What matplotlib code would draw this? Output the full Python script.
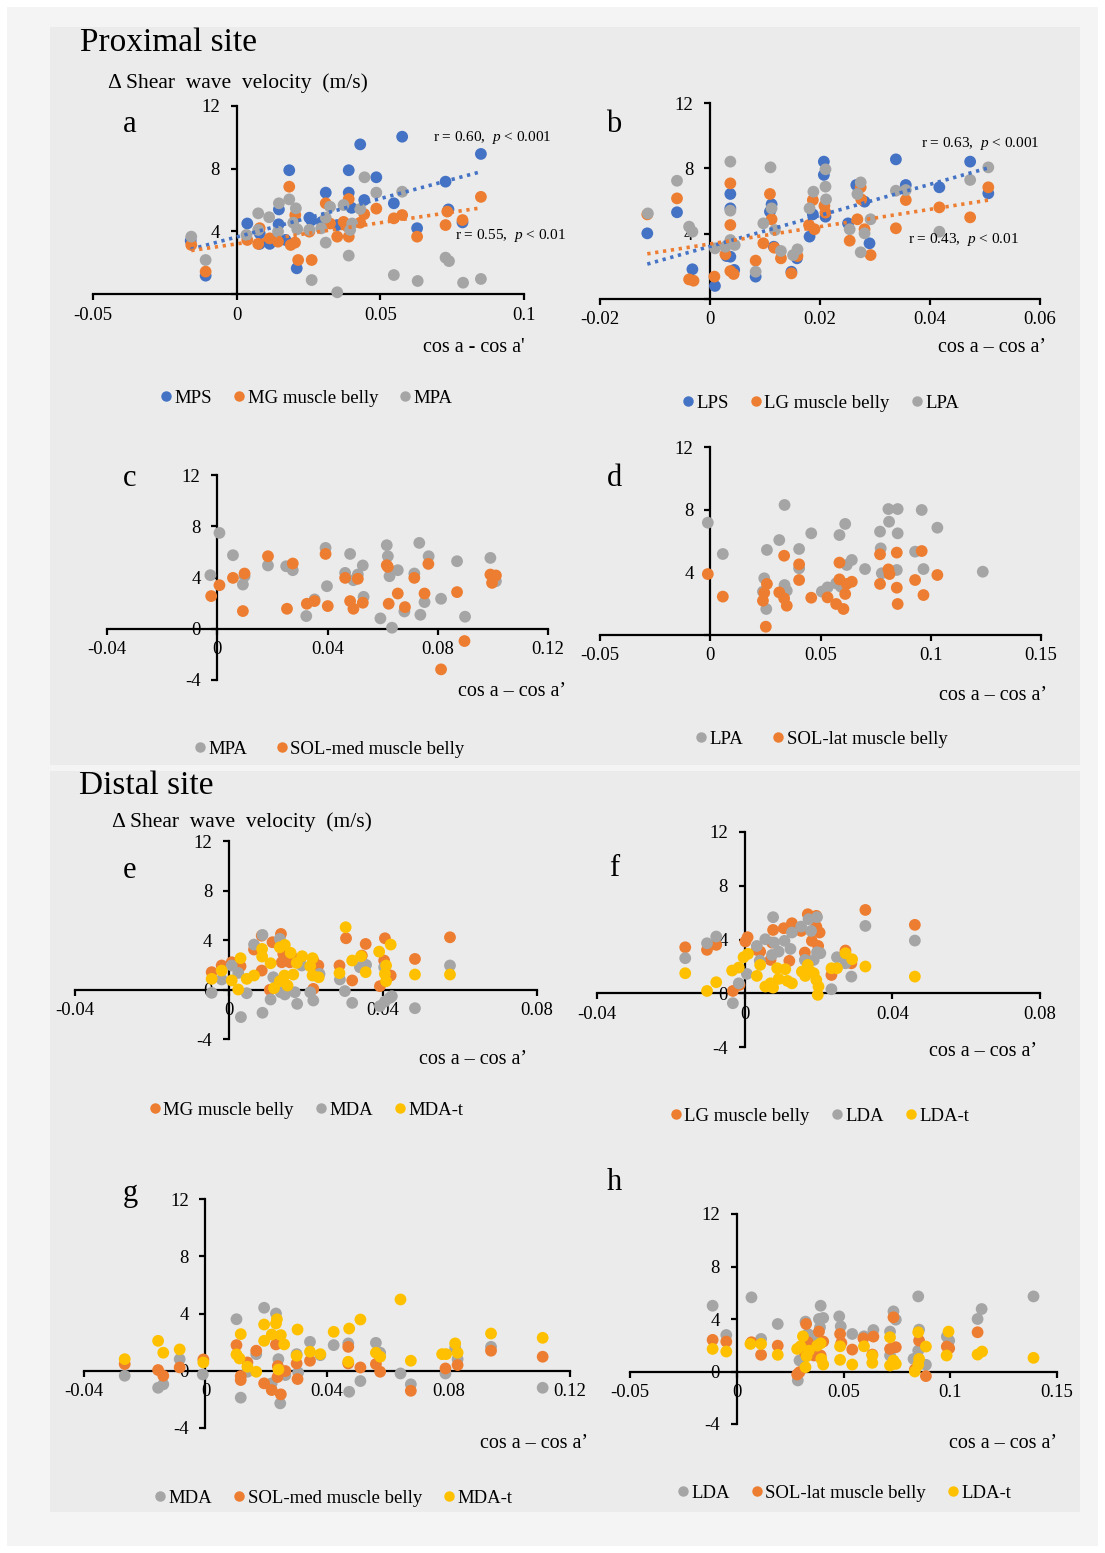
import numpy as np
import matplotlib
matplotlib.use('Agg')
import matplotlib.pyplot as plt
from matplotlib.lines import Line2D
from matplotlib.patches import Rectangle

plt.rcParams['font.family'] = ['Liberation Serif', 'DejaVu Serif']
plt.rcParams['mathtext.fontset'] = 'custom'
plt.rcParams['mathtext.rm'] = 'Liberation Serif'
plt.rcParams['mathtext.it'] = 'Liberation Serif:italic'

BLUE, ORANGE, GRAY, YELLOW = '#4472C4', '#ED7D31', '#A5A5A5', '#FFC000'

# ---------------- proximal site ----------------
# a: medial
a_mps_x = [0.0576, 0.043, 0.085, 0.0183, 0.039, 0.0486, 0.0727, 0.031, 0.039, 0.0444, 0.0547, 0.0147, 0.040, 0.0737,
           0.0037, 0.0146, 0.0253, 0.026, 0.0296, 0.035, 0.0786, 0.0628, 0.008, 0.0115, 0.017, 0.0209, -0.0108, -0.016, 0.008]
a_mps_y = [10.04, 9.55, 8.94, 7.9, 7.9, 7.45, 7.17, 6.47, 6.47, 6.0, 5.79, 5.4, 5.5, 5.4,
           4.5, 4.45, 4.87, 4.7, 4.6, 4.4, 4.57, 4.2, 3.2, 3.2, 3.45, 1.64, 1.17, 3.4, 3.87]
a_mg_x = [0.0183, 0.039, 0.031, 0.0486, 0.085, 0.0444, 0.0547, 0.0576, 0.0733, 0.0786, 0.0727, 0.043, 0.0372, 0.0325,
          0.0386, 0.035, 0.039, 0.0628, -0.0158, 0.0037, 0.0075, 0.0115, 0.0144, 0.0188, 0.0203, 0.0214, 0.0261, -0.0108,
          0.008, 0.0253, 0.0204]
a_mg_y = [6.85, 6.06, 5.79, 5.45, 6.2, 5.1, 4.83, 5.04, 5.26, 4.72, 4.4, 4.55, 4.6, 4.5,
          4.3, 3.66, 3.66, 3.66, 3.13, 3.45, 3.2, 3.55, 3.34, 3.13, 3.28, 2.17, 2.17, 1.43,
          4.2, 3.98, 5.04]
a_mpa_x = [0.0445, 0.0486, 0.0576, 0.0183, 0.0147, 0.0075, 0.0113, 0.0206, 0.0325, 0.0372, 0.043, 0.031, 0.0197, 0.0211,
           0.0144, 0.0294, 0.0395, 0.0402, -0.0158, 0.0034, 0.0075, 0.031, -0.0108, 0.039, 0.0727, 0.0739, 0.0547, 0.0261,
           0.063, 0.0788, 0.085, 0.035, 0.0253]
a_mpa_y = [7.45, 6.47, 6.53, 6.04, 5.79, 5.15, 4.9, 5.47, 5.57, 5.68, 5.43, 4.87, 4.55, 4.13,
           3.98, 4.19, 4.09, 4.5, 3.66, 3.77, 4.09, 3.28, 2.17, 2.45, 2.32, 2.1, 1.21, 0.89,
           0.83, 0.72, 0.96, 0.11, 4.1]
a_trend = {'MPS': (49.0, 3.64), 'MG': (27.0, 3.2)}  # slope, intercept

# b: lateral
b_lps_x = [-0.0114, -0.006, -0.0032, 0.0009, 0.0037, 0.0037, 0.0037, 0.003, 0.0044, 0.0083, 0.0112, 0.0109, 0.0116,
           0.0148, 0.0158, 0.0181, 0.0187, 0.0207, 0.0207, 0.021, 0.0251, 0.0266, 0.0281, 0.029, 0.0338, 0.0356, 0.0417,
           0.0473, 0.0506]
b_lps_y = [4.02, 5.31, 1.82, 0.8, 6.43, 5.55, 2.59, 2.63, 1.78, 1.37, 5.8, 5.35, 3.2,
           1.67, 2.49, 3.82, 5.18, 8.41, 7.6, 5.04, 4.63, 6.98, 5.96, 3.41, 8.55, 6.98, 6.84,
           8.41, 6.47]
b_lg_x = [-0.0114, -0.006, -0.0038, -0.003, 0.0008, 0.0037, 0.0037, 0.0028, 0.0037, 0.0043, 0.0083, 0.0097, 0.0109,
          0.0112, 0.0117, 0.0129, 0.0148, 0.0159, 0.018, 0.0187, 0.019, 0.0208, 0.021, 0.0254, 0.0268, 0.0274, 0.0275,
          0.0281, 0.0292, 0.0338, 0.0356, 0.0417, 0.0473, 0.0506]
b_lg_y = [5.18, 6.16, 1.2, 1.12, 1.37, 7.08, 4.53, 2.73, 1.71, 1.53, 2.35, 3.41, 6.43,
          4.88, 3.14, 2.49, 1.57, 2.63, 4.53, 6.06, 4.27, 5.71, 5.29, 3.57, 4.88, 6.84, 6.1,
          4.27, 2.69, 4.33, 6.06, 5.61, 5.0, 6.84]
b_lpa_x = [-0.0113, -0.006, -0.0038, -0.0032, 0.0009, 0.0037, 0.0037, 0.0037, 0.0045, 0.0028, 0.0083, 0.0097, 0.011,
           0.0112, 0.0118, 0.0129, 0.0151, 0.0159, 0.0181, 0.0188, 0.021, 0.021, 0.0211, 0.0254, 0.0268, 0.0274, 0.0281,
           0.0274, 0.0292, 0.0338, 0.0356, 0.0417, 0.0473, 0.0506]
b_lpa_y = [5.24, 7.24, 4.43, 4.12, 3.1, 8.41, 5.41, 3.61, 3.31, 3.2, 1.67, 4.63, 8.06,
           5.55, 4.22, 2.94, 2.69, 3.04, 5.55, 6.57, 7.94, 6.88, 6.1, 4.27, 6.43, 7.14, 4.02,
           2.86, 4.88, 6.63, 6.67, 4.12, 7.29, 8.06]
b_trend = {'LPS': (95.0, 3.22), 'LG': (53.0, 3.37)}

# c: medial vs soleus
c_mpa_x = [-0.0025, 0.0008, 0.0057, 0.0093, 0.0099, 0.0184, 0.025, 0.0274, 0.0323, 0.0353, 0.0393, 0.0398, 0.0464,
           0.0482, 0.0494, 0.051, 0.0528, 0.0531, 0.0592, 0.0615, 0.0619, 0.0625, 0.0634, 0.0655, 0.0715, 0.0733, 0.0737,
           0.0752, 0.0767, 0.0679, 0.0812, 0.087, 0.0899, 0.0991, 0.1011]
c_mpa_y = [4.18, 7.48, 5.74, 3.45, 4.1, 4.94, 4.88, 4.57, 0.99, 2.29, 6.31, 3.32, 4.36,
           5.84, 3.79, 4.23, 4.94, 2.49, 0.81, 6.52, 5.66, 4.1, 0.08, 4.57, 4.31, 6.7, 1.09,
           2.08, 5.66, 1.35, 2.34, 5.27, 0.94, 5.53, 3.71]
c_sol_x = [-0.0022, 0.0008, 0.0057, 0.0099, 0.0093, 0.0184, 0.0253, 0.0274, 0.0325, 0.0353, 0.0393, 0.0401, 0.0464,
           0.0482, 0.0494, 0.051, 0.0528, 0.0615, 0.0619, 0.0622, 0.0655, 0.0681, 0.0715, 0.0752, 0.0766, 0.0812, 0.087,
           0.0897, 0.0991, 0.0997, 0.1011]
c_sol_y = [2.55, 3.4, 3.97, 4.31, 1.38, 5.66, 1.56, 5.09, 1.95, 2.16, 5.84, 1.77, 3.97,
           2.16, 1.56, 3.9, 2.03, 4.96, 4.83, 1.95, 2.75, 1.69, 3.97, 2.75, 5.06, -3.17, 2.86,
           -0.96, 4.23, 3.58, 4.16]

# d: lateral vs soleus
d_lpa_x = [-0.0011, 0.0057, 0.0245, 0.0239, 0.0254, 0.0257, 0.0313, 0.0337, 0.0337, 0.0347, 0.0403, 0.0403, 0.0458,
           0.0506, 0.0532, 0.0571, 0.0586, 0.0592, 0.0612, 0.0619, 0.0642, 0.0702, 0.077, 0.0773, 0.0778, 0.0808, 0.0811,
           0.085, 0.085, 0.0846, 0.0929, 0.0959, 0.0967, 0.103, 0.1236]
d_lpa_y = [7.17, 5.17, 3.62, 2.77, 1.66, 5.43, 6.06, 8.3, 3.19, 2.83, 5.49, 4.26, 6.49,
           2.77, 3.04, 3.3, 6.38, 3.09, 7.09, 4.47, 4.79, 4.21, 6.6, 5.53, 3.94, 8.04, 7.23,
           8.04, 6.49, 4.15, 5.32, 7.98, 4.21, 6.85, 4.04]
d_sol_x = [-0.0011, 0.0057, 0.0239, 0.0245, 0.0257, 0.0252, 0.0313, 0.0335, 0.0335, 0.0347, 0.0403, 0.0403, 0.0458,
           0.0532, 0.0571, 0.0586, 0.0586, 0.0604, 0.0612, 0.0619, 0.0642, 0.077, 0.077, 0.0808, 0.0813, 0.0846, 0.0846,
           0.085, 0.0929, 0.0959, 0.0967, 0.103]
d_sol_y = [3.89, 2.45, 2.19, 2.7, 3.26, 0.53, 2.72, 5.06, 2.34, 1.87, 4.51, 3.51, 2.38,
           2.4, 1.98, 4.62, 3.55, 1.66, 2.62, 3.26, 3.4, 5.15, 3.26, 4.19, 3.89, 5.26, 3.02,
           1.98, 3.51, 5.36, 2.55, 3.83]

# ---------------- distal site ----------------
e_mg_x = [-0.0045, -0.0019, 0.0007, 0.003, 0.0065, 0.0085, 0.0085, 0.0113, 0.0106, 0.0135, 0.0137, 0.0141, 0.0158,
          0.018, 0.0219, 0.0219, 0.0232, 0.0287, 0.0304, 0.032, 0.0345, 0.0355, 0.0392, 0.0405, 0.0403, 0.042, 0.0483,
          0.0574]
e_mg_y = [1.4, 1.94, 2.2, 1.88, 3.23, 1.53, 4.35, 3.82, -0.03, 4.49, 2.2, 2.88, 2.2,
          2.47, 2.34, 0.05, 1.94, 1.94, 4.14, 0.73, 2.74, 3.68, 0.27, 4.14, 2.34, 1.13, 2.47,
          4.22]
e_mda_x = [-0.0045, -0.0019, 0.0007, 0.0024, 0.0031, 0.0046, 0.0065, 0.0087, 0.0087, 0.0108, 0.0115, 0.0132, 0.0134,
           0.0145, 0.0171, 0.0177, 0.0189, 0.0211, 0.0219, 0.0235, 0.0288, 0.0301, 0.032, 0.034, 0.0356, 0.0392, 0.0405,
           0.0418, 0.0423, 0.0483, 0.0574, 0.0403]
e_mda_y = [-0.27, 0.81, 1.94, 1.34, -2.23, -0.3, 3.63, 4.41, -1.88, -0.81, 0.99, 4.09, -0.22,
           -0.4, -0.22, -1.16, 1.94, -0.22, -0.89, 1.26, 0.81, -0.13, -1.08, 1.8, 1.99, -1.34, -0.97,
           -0.67, -0.54, -1.51, 1.94, 1.8]
e_mdat_x = [-0.0045, -0.0019, 0.0007, 0.0024, 0.003, 0.0046, 0.0065, 0.0086, 0.0086, 0.0108, 0.0117, 0.0132, 0.0132,
            0.0144, 0.0145, 0.0152, 0.016, 0.0167, 0.0176, 0.019, 0.0211, 0.0217, 0.0217, 0.0233, 0.0287, 0.0303, 0.032,
            0.0343, 0.0355, 0.039, 0.0405, 0.0408, 0.0408, 0.042, 0.0483, 0.0574]
e_mdat_y = [0.86, 1.53, 0.73, 0.0, 2.53, 0.86, 1.13, 2.66, 3.28, 2.12, 0.11, 0.67, 3.41,
            1.13, 3.6, 0.32, 2.96, 1.21, 2.15, 2.69, 1.88, 2.53, 1.13, 0.99, 1.32, 5.03, 2.34,
            2.69, 1.4, 3.06, 1.26, 0.67, 1.94, 3.63, 1.21, 1.21]

f_lg_x = [-0.0161, -0.0102, -0.0077, -0.0032, -0.0014, 0.0002, 0.0008, 0.0033, 0.0042, 0.0077, 0.0074, 0.007, 0.0106,
          0.0128, 0.0121, 0.0131, 0.0153, 0.0163, 0.0171, 0.0182, 0.0194, 0.0194, 0.0199, 0.0203, 0.0235, 0.0273, 0.0289,
          0.0327, 0.0461]
f_lg_y = [3.42, 3.23, 3.6, 0.17, 0.62, 3.85, 4.17, 3.23, 3.1, 4.71, 3.77, 2.48, 4.84,
          5.21, 2.41, 4.67, 4.64, 3.03, 5.88, 3.9, 4.96, 5.76, 3.52, 4.52, 1.36, 3.18, 2.23,
          6.2, 5.09]
f_lda_x = [-0.0161, -0.0102, -0.0077, -0.0032, -0.0016, 0.0006, 0.0033, 0.0041, 0.0056, 0.0077, 0.0074, 0.008, 0.0092,
           0.0108, 0.0124, 0.0128, 0.0153, 0.0163, 0.0173, 0.018, 0.0187, 0.0196, 0.0196, 0.0205, 0.0235, 0.025, 0.0273,
           0.0289, 0.0327, 0.0461]
f_lda_y = [2.61, 3.72, 4.22, -0.74, 0.74, 1.44, 3.52, 2.43, 4.02, 5.66, 2.85, 3.77, 3.1,
           3.9, 3.3, 4.52, 4.96, 2.48, 5.51, 4.64, 2.48, 5.66, 3.05, 2.98, 0.3, 2.68, 2.23,
           1.24, 5.01, 3.92]
f_ldat_x = [-0.0161, -0.0102, -0.0077, -0.0034, -0.0016, -0.0003, 0.0009, 0.0033, 0.0042, 0.0056, 0.007, 0.0077, 0.0088,
            0.0092, 0.011, 0.0116, 0.0128, 0.0155, 0.0164, 0.0171, 0.0178, 0.0187, 0.0194, 0.02, 0.0198, 0.0235, 0.025,
            0.0273, 0.0291, 0.0327, 0.0461]
f_ldat_y = [1.49, 0.17, 0.82, 1.69, 1.91, 2.68, 2.93, 1.29, 2.11, 0.5, 0.74, 0.42, 1.86,
            1.07, 1.79, 0.92, 0.74, 1.61, 1.29, 2.11, 1.61, 1.49, 0.99, 0.5, -0.12, 1.86, 1.86,
            2.98, 2.53, 1.99, 1.24]

g_mda_x = [-0.0266, -0.0156, -0.0139, -0.0085, -0.0009, 0.0102, 0.0116, 0.0138, 0.0167, 0.0193, 0.0218, 0.0232, 0.024,
           0.0246, 0.0263, 0.03, 0.0305, 0.0344, 0.0378, 0.0422, 0.047, 0.0473, 0.051, 0.0561, 0.0575, 0.0642, 0.0676,
           0.079, 0.0822, 0.083, 0.094, 0.111]
g_mda_y = [-0.35, -1.19, -0.95, 0.81, -0.26, 3.6, -1.88, -0.07, 1.16, 4.4, -0.88, 4.0, 0.81,
           -2.28, -0.3, 1.16, -0.12, 2.02, 1.09, 1.79, 1.91, -1.47, -0.72, 1.95, 1.26, -0.19, -0.95,
           -0.19, 1.6, 0.81, 1.67, -1.19]
g_sol_x = [-0.0266, -0.0156, -0.0139, -0.0085, -0.0007, 0.0102, 0.0116, 0.0116, 0.0138, 0.0167, 0.0193, 0.0218, 0.0232,
           0.0238, 0.0237, 0.0248, 0.0263, 0.03, 0.0303, 0.0344, 0.047, 0.047, 0.051, 0.0561, 0.0575, 0.0676, 0.079,
           0.083, 0.094, 0.111]
g_sol_y = [0.47, 0.05, -0.35, 0.23, 0.79, 1.79, -0.37, -0.65, 0.58, 1.4, -0.88, -1.35, 1.84,
           0.33, -0.44, -1.65, -0.02, 0.51, -0.58, 0.7, 1.67, 0.51, 0.23, 0.47, -0.07, -1.4, 0.16,
           0.4, 1.4, 0.98]
g_mdat_x = [-0.0266, -0.0156, -0.0139, -0.0085, -0.0007, 0.0102, 0.0116, 0.0112, 0.0138, 0.0167, 0.0193, 0.0193, 0.0218,
            0.0235, 0.0232, 0.0248, 0.024, 0.0259, 0.0303, 0.03, 0.0344, 0.0378, 0.0422, 0.0473, 0.047, 0.051, 0.0561,
            0.0575, 0.0642, 0.0676, 0.0779, 0.0792, 0.0822, 0.083, 0.094, 0.111]
g_mdat_y = [0.81, 2.09, 1.26, 1.49, 0.58, 1.14, 2.56, 0.86, 0.28, -0.07, 3.23, 2.09, 2.53,
            3.6, 3.3, 2.49, 0.09, 1.84, 2.88, 1.05, 1.33, 1.16, 2.72, 2.95, 0.63, 3.58, 1.26,
            0.98, 4.98, 0.7, 1.16, 1.16, 1.91, 1.26, 2.6, 2.3]

h_lda_x = [-0.0113, -0.0049, 0.0069, 0.0114, 0.0192, 0.0294, 0.0286, 0.0322, 0.0333, 0.0362, 0.0385, 0.0393, 0.0405,
           0.039, 0.048, 0.0487, 0.0541, 0.0596, 0.064, 0.0718, 0.0734, 0.0745, 0.0718, 0.0828, 0.085, 0.0854, 0.085,
           0.0886, 0.0984, 0.0995, 0.1128, 0.1147, 0.139]
h_lda_y = [5.01, 2.78, 5.65, 2.48, 3.62, 0.84, -0.68, 3.8, 2.86, 2.73, 4.0, 5.01, 4.08,
           3.37, 4.2, 3.44, 2.86, 2.68, 3.16, 3.04, 4.58, 3.95, 1.22, 0.96, 5.72, 3.19, 1.59,
           0.51, 2.66, 2.35, 4.0, 4.76, 5.72]
h_sol_x = [-0.0113, -0.0049, 0.0069, 0.0114, 0.0192, 0.0294, 0.0283, 0.0325, 0.0333, 0.0318, 0.0362, 0.0385, 0.0405,
           0.0393, 0.0484, 0.049, 0.0541, 0.0593, 0.064, 0.0635, 0.0718, 0.0734, 0.0745, 0.0854, 0.0834, 0.0886, 0.0984,
           0.0995, 0.1128]
h_sol_y = [2.41, 2.28, 2.23, 1.27, 1.97, -0.05, -0.23, 3.62, 2.23, 1.47, 1.22, 3.04, 2.28,
           1.22, 2.86, 2.18, 1.67, 2.53, 2.66, 1.29, 1.72, 4.13, 1.85, 2.35, 0.15, -0.35, 1.9,
           1.77, 2.99]
h_ldat_x = [-0.0113, -0.0049, 0.0064, 0.0114, 0.0192, 0.0283, 0.0299, 0.031, 0.0327, 0.0322, 0.0338, 0.0377, 0.0393,
            0.0396, 0.0405, 0.0484, 0.0484, 0.0541, 0.0596, 0.0635, 0.0635, 0.0718, 0.0718, 0.0734, 0.0745, 0.0834, 0.085,
            0.0854, 0.085, 0.0886, 0.0983, 0.0992, 0.1128, 0.1149, 0.139]
h_ldat_y = [1.72, 1.52, 2.1, 2.1, 1.27, 1.72, 1.92, 2.68, 1.16, 0.33, 1.59, 1.97, 2.15,
            0.96, 0.53, 1.92, 0.89, 0.53, 1.92, 1.22, 0.66, 2.61, 0.46, 0.84, 0.58, 0.0, 2.99,
            0.96, 0.51, 1.9, 1.22, 3.04, 1.29, 1.52, 1.04]

W, H = 1105, 1553
fig = plt.figure(figsize=(W / 100, H / 100), dpi=100, facecolor='white')


def fx(x):
    return x / W


def fy(y):
    return 1 - y / H


def rect(x0, y0, x1, y1, color):
    fig.add_artist(Rectangle((fx(x0), fy(y1)), fx(x1 - x0), (y1 - y0) / H,
                             transform=fig.transFigure, color=color, zorder=-10, lw=0))


# background panels
rect(7, 7, 1098, 1546, '#f4f4f4')
rect(50, 27, 1080, 765, '#ebebeb')
rect(50, 771, 1080, 1512, '#ebebeb')


def panel(box, xr, yr, xt, xtl, yt, ytl):
    l, t, r, b = box
    ax = fig.add_axes([fx(l), fy(b), fx(r - l), (b - t) / H])
    ax.set_xlim(xr)
    ax.set_ylim(yr)
    ax.patch.set_alpha(0)
    ax.spines['top'].set_visible(False)
    ax.spines['right'].set_visible(False)
    ax.spines['left'].set_position(('data', 0))
    ax.spines['bottom'].set_position(('data', 0))
    for s in ['left', 'bottom']:
        ax.spines[s].set_linewidth(1.6)
    ax.set_xticks(xt, xtl)
    ax.set_yticks(yt, ytl)
    ax.tick_params(direction='out', length=4, width=1.6, labelsize=13.5)
    ax.tick_params(axis='y', pad=8)
    ax.tick_params(axis='x', pad=5)
    return ax


def dots(ax, x, y, c):
    ax.scatter(x, y, s=72, color=c, edgecolors='none', clip_on=False, zorder=3)


def trend(ax, x, slope, icpt, c):
    xs = np.array([min(x), max(x)])
    ax.plot(xs, slope * xs + icpt, ls=(0, (0.9, 1.3)), lw=2.6, color=c, zorder=4)


def legend(ax, items, cx, cy, gap=1.2):
    hs = [Line2D([], [], marker='o', ls='none', color=c, markersize=6.5) for c, _ in items]
    ax.legend(hs, [t for _, t in items], loc='center', bbox_to_anchor=(fx(cx), fy(cy)),
              bbox_transform=fig.transFigure, ncol=len(items), frameon=False, fontsize=13.5,
              handlelength=0.5, handletextpad=0.2, columnspacing=gap)


def label(txt, x, y, **kw):
    fig.text(fx(x), fy(y), txt, va='center', **kw)


y012 = [0, 4, 8, 12]
y012l = ['', '4', '8', '12']
ym412 = [-4, 0, 4, 8, 12]
ym412l = ['-4', '0', '4', '8', '12']
xt05 = [-0.05, 0, 0.05, 0.1]
xt05l = ['-0.05', '0', '0.05', '0.1']
xt02 = [-0.02, 0, 0.02, 0.04, 0.06]
xt02l = ['-0.02', '0', '0.02', '0.04', '0.06']
xt04 = [-0.04, 0, 0.04, 0.08, 0.12]
xt04l = ['-0.04', '0', '0.04', '0.08', '0.12']
xt15 = [-0.05, 0, 0.05, 0.1, 0.15]
xt15l = ['-0.05', '0', '0.05', '0.1', '0.15']
xt08 = [-0.04, 0, 0.04, 0.08]
xt08l = ['-0.04', '0', '0.04', '0.08']

# a
ax = panel((93, 106, 524, 294), (-0.05, 0.1), (0, 12), xt05, xt05l, y012, y012l)
dots(ax, a_mps_x, a_mps_y, BLUE)
dots(ax, a_mg_x, a_mg_y, ORANGE)
dots(ax, a_mpa_x, a_mpa_y, GRAY)
trend(ax, a_mps_x, *a_trend['MPS'], BLUE)
trend(ax, a_mg_x, *a_trend['MG'], ORANGE)
legend(ax, [(BLUE, 'MPS'), (ORANGE, 'MG muscle belly'), (GRAY, 'MPA')], 307, 398)

# b
ax = panel((600, 103, 1040, 299), (-0.02, 0.06), (0, 12), xt02, xt02l, y012, y012l)
dots(ax, b_lps_x, b_lps_y, BLUE)
dots(ax, b_lg_x, b_lg_y, ORANGE)
dots(ax, b_lpa_x, b_lpa_y, GRAY)
trend(ax, b_lps_x, *b_trend['LPS'], BLUE)
trend(ax, b_lg_x, *b_trend['LG'], ORANGE)
legend(ax, [(BLUE, 'LPS'), (ORANGE, 'LG muscle belly'), (GRAY, 'LPA')], 821, 403)

# c
ax = panel((107, 475, 548, 680), (-0.04, 0.12), (-4, 12), xt04, xt04l, ym412, ym412l)
dots(ax, c_mpa_x, c_mpa_y, GRAY)
dots(ax, c_sol_x, c_sol_y, ORANGE)
legend(ax, [(GRAY, 'MPA'), (ORANGE, 'SOL-med muscle belly')], 330, 749, gap=1.6)

# d
ax = panel((600, 447, 1041, 635), (-0.05, 0.15), (0, 12), xt15, xt15l, y012, y012l)
dots(ax, d_lpa_x, d_lpa_y, GRAY)
dots(ax, d_sol_x, d_sol_y, ORANGE)
legend(ax, [(GRAY, 'LPA'), (ORANGE, 'SOL-lat muscle belly')], 822, 739, gap=1.6)

# e
ax = panel((75, 841, 537, 1039), (-0.04, 0.08), (-4, 12), xt08, xt08l, ym412, ym412l)
dots(ax, e_mg_x, e_mg_y, ORANGE)
dots(ax, e_mda_x, e_mda_y, GRAY)
dots(ax, e_mdat_x, e_mdat_y, YELLOW)
legend(ax, [(ORANGE, 'MG muscle belly'), (GRAY, 'MDA'), (YELLOW, 'MDA-t')], 307, 1110)

# f
ax = panel((597, 832, 1040, 1047), (-0.04, 0.08), (-4, 12), xt08, xt08l, ym412, ym412l)
dots(ax, f_lg_x, f_lg_y, ORANGE)
dots(ax, f_lda_x, f_lda_y, GRAY)
dots(ax, f_ldat_x, f_ldat_y, YELLOW)
legend(ax, [(ORANGE, 'LG muscle belly'), (GRAY, 'LDA'), (YELLOW, 'LDA-t')], 820, 1116)

# g
ax = panel((84, 1199, 570, 1428), (-0.04, 0.12), (-4, 12), xt04, xt04l, ym412, ym412l)
dots(ax, g_mda_x, g_mda_y, GRAY)
dots(ax, g_sol_x, g_sol_y, ORANGE)
dots(ax, g_mdat_x, g_mdat_y, YELLOW)
legend(ax, [(GRAY, 'MDA'), (ORANGE, 'SOL-med muscle belly'), (YELLOW, 'MDA-t')], 334, 1498)

# h
ax = panel((630, 1214, 1057, 1424), (-0.05, 0.15), (-4, 12), xt15, xt15l, ym412, ym412l)
dots(ax, h_lda_x, h_lda_y, GRAY)
dots(ax, h_sol_x, h_sol_y, ORANGE)
dots(ax, h_ldat_x, h_ldat_y, YELLOW)
legend(ax, [(GRAY, 'LDA'), (ORANGE, 'SOL-lat muscle belly'), (YELLOW, 'LDA-t')], 845, 1493)

# headings and labels
label('Proximal site', 80, 43, fontsize=24)
label('\u0394 Shear  wave  velocity  (m/s)', 108, 83, fontsize=15.5)
label('Distal site', 79, 786, fontsize=24)
label('\u0394 Shear  wave  velocity  (m/s)', 112, 822, fontsize=15.5)

for letter, x, y in [('a', 130, 125), ('b', 614, 125), ('c', 130, 479), ('d', 614, 478),
                     ('e', 130, 870), ('f', 614, 868), ('g', 130, 1193), ('h', 614, 1183)]:
    label(letter, x, y, fontsize=22, ha='center')

xlab = 'cos a \u2013 cos a\u2019'
label("cos a - cos a'", 525, 348, fontsize=14.5, ha='right')
for x, y in [(1046, 348), (566, 692), (1047, 695), (527, 1059), (1037, 1051), (588, 1443), (1057, 1443)]:
    label(xlab, x, y, fontsize=14.5, ha='right')

label(r'r = 0.60,  $\mathit{p}$ < 0.001', 433, 137, fontsize=11)
label(r'r = 0.55,  $\mathit{p}$ < 0.01', 455, 236, fontsize=11)
label(r'r = 0.63,  $\mathit{p}$ < 0.001', 921, 143, fontsize=11)
label(r'r = 0.43,  $\mathit{p}$ < 0.01', 908, 240, fontsize=11)

fig.savefig('out.png', dpi=100, facecolor='white')
